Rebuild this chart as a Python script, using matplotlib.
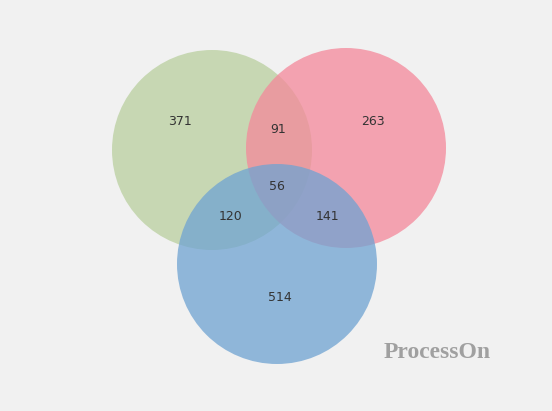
import matplotlib.pyplot as plt
from matplotlib.patches import Circle

# region counts
set_names = ["A", "B", "C"]
only_counts = [371, 263, 514]
pair_names = ["AB", "AC", "BC"]
pair_counts = [91, 120, 141]
all_count = 56

# layout (pixel space)
centers = {"A": (212, 150), "B": (346, 148), "C": (277, 264)}
radius = 100
colors = {"A": "#b9cf9f", "B": "#f4889a", "C": "#6fa3d2"}
only_pos = {"A": (180, 121), "B": (373, 121), "C": (280, 297)}
pair_pos = {"AB": (278, 129), "AC": (231, 216), "BC": (327, 216)}
all_pos = (277, 186)

fig = plt.figure(figsize=(5.52, 4.11), dpi=100)
fig.patch.set_facecolor("#f1f1f1")
ax = fig.add_axes([0, 0, 1, 1])
ax.set_xlim(0, 552)
ax.set_ylim(411, 0)
ax.set_aspect("equal")
ax.axis("off")

for name in set_names:
    ax.add_patch(Circle(centers[name], radius, facecolor=colors[name],
                        alpha=0.75, edgecolor="none"))

for name, val in zip(set_names, only_counts):
    ax.text(*only_pos[name], str(val), ha="center", va="center", fontsize=9, color="#333333")
for name, val in zip(pair_names, pair_counts):
    ax.text(*pair_pos[name], str(val), ha="center", va="center", fontsize=9, color="#333333")
ax.text(*all_pos, str(all_count), ha="center", va="center", fontsize=9, color="#333333")

ax.text(437, 352, "ProcessOn", ha="center", va="center", fontsize=17,
        fontweight="bold", family="Liberation Serif", color="#a0a0a0")

fig.savefig("out.png", dpi=100, facecolor=fig.get_facecolor())
